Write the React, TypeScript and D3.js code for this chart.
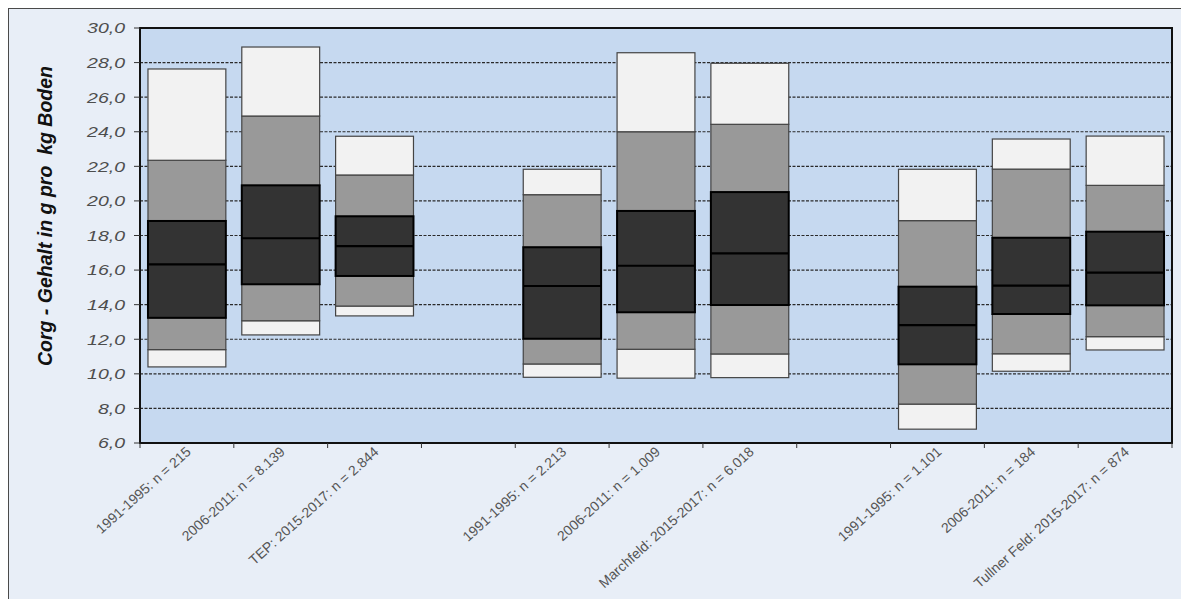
import React from "react";
import * as d3 from "d3";

const categories = [
  "1991-1995: n = 215",
  "2006-2011: n = 8.139",
  "TEP: 2015-2017: n = 2.844",
  "",
  "1991-1995: n = 2.213",
  "2006-2011: n = 1.009",
  "Marchfeld: 2015-2017: n = 6.018",
  "",
  "1991-1995: n = 1.101",
  "2006-2011: n = 184",
  "Tullner Feld: 2015-2017: n = 874",
];

// per box: min, p10, p25, median, p75, p90, max (index aligned with non-empty categories)
const minVals = [10.4, 12.25, 13.35, 9.8, 9.75, 9.78, 6.8, 10.15, 11.38];
const p10Vals = [11.4, 13.07, 13.92, 10.57, 11.42, 11.15, 8.25, 11.16, 12.15];
const p25Vals = [13.24, 15.18, 15.66, 12.03, 13.56, 13.98, 10.55, 13.46, 13.96];
const medVals = [16.33, 17.84, 17.39, 15.08, 16.25, 16.97, 12.82, 15.1, 15.85];
const p75Vals = [18.84, 20.9, 19.11, 17.32, 19.42, 20.51, 15.04, 17.87, 18.22];
const p90Vals = [22.35, 24.91, 21.5, 20.36, 24.0, 24.43, 18.86, 21.84, 20.9];
const maxVals = [27.63, 28.9, 23.74, 21.83, 28.57, 27.96, 21.83, 23.58, 23.75];

const yTicks = [6, 8, 10, 12, 14, 16, 18, 20, 22, 24, 26, 28, 30];

const W = 1181;
const H = 599;
const left = 140;
const right = 1172;
const top = 28;
const bottom = 443;

export default function App() {
  const x = d3
    .scaleBand<number>()
    .domain(d3.range(categories.length))
    .range([left, right])
    .paddingInner(0.17)
    .paddingOuter(0.085);
  const slot = (right - left) / categories.length;
  const y = d3.scaleLinear().domain([6, 30]).range([bottom, top]);
  const fmt = (v: number) => v.toFixed(1).replace(".", ",");

  const boxIdx = categories
    .map((c, i) => (c ? i : -1))
    .filter((i) => i >= 0);

  return (
    <svg
      width={W}
      height={H}
      style={{ position: "absolute", left: 0, top: 0, display: "block" }}
      fontFamily="Arial, Liberation Sans, sans-serif"
    >
      <rect x={0} y={0} width={W} height={H} fill="#ffffff" />
      <rect x={8.5} y={8.5} width={W + 10} height={H + 10} fill="#e8eef7" stroke="#4a4a4a" strokeWidth={1} />
      <rect x={left} y={top} width={right - left} height={bottom - top} fill="#c6d9f0" />
      {yTicks
        .filter((t) => t !== 6 && t !== 30)
        .map((t) => (
          <line
            key={"g" + t}
            x1={left}
            x2={right}
            y1={y(t)}
            y2={y(t)}
            stroke="#2a2a2a"
            strokeWidth={1.2}
            strokeDasharray="3,1.5"
          />
        ))}
      {boxIdx.map((ci, k) => {
        const bx = x(ci)!;
        const bw = x.bandwidth();
        const segs = [
          [minVals[k], p10Vals[k], "#f2f2f2"],
          [p10Vals[k], p25Vals[k], "#999999"],
          [p75Vals[k], p90Vals[k], "#999999"],
          [p90Vals[k], maxVals[k], "#f2f2f2"],
        ] as [number, number, string][];
        return (
          <g key={"b" + k}>
            {segs.map(([a, b, f], j) => (
              <rect key={j} x={bx} y={y(b)} width={bw} height={y(a) - y(b)} fill={f} stroke="#444" strokeWidth={1.2} />
            ))}
            <rect
              x={bx}
              y={y(p75Vals[k])}
              width={bw}
              height={y(p25Vals[k]) - y(p75Vals[k])}
              fill="#333333"
              stroke="#000"
              strokeWidth={2}
            />
            <line x1={bx} x2={bx + bw} y1={y(medVals[k])} y2={y(medVals[k])} stroke="#000" strokeWidth={2.2} />
          </g>
        );
      })}
      <rect x={left} y={top} width={right - left} height={bottom - top} fill="none" stroke="#111" strokeWidth={2} />
      {yTicks.map((t) => (
        <g key={"yt" + t}>
          <line x1={left - 6} x2={left} y1={y(t)} y2={y(t)} stroke="#333" strokeWidth={1} />
          <text
            transform={`translate(125,${y(t)}) scale(1.3,1)`}
            dy="0.36em"
            textAnchor="end"
            fontSize={15}
            fontStyle="italic"
            fill="#4d4d4d"
          >
            {fmt(t)}
          </text>
        </g>
      ))}
      {d3.range(categories.length + 1).map((i) => (
        <line
          key={"xt" + i}
          x1={left + i * slot}
          x2={left + i * slot}
          y1={bottom}
          y2={bottom + 5}
          stroke="#333"
          strokeWidth={1}
        />
      ))}
      {categories.map((c, i) =>
        c ? (
          <text
            key={"xl" + i}
            transform={`translate(${x(i)! + x.bandwidth() / 2 + 5},${bottom + 10}) rotate(-42)`}
            textAnchor="end"
            fontSize={14}
            fill="#555"
          >
            {c}
          </text>
        ) : null
      )}
      <text
        transform={`translate(52,216) rotate(-90)`}
        textAnchor="middle"
        fontSize={19.5}
        fontWeight="bold"
        fontStyle="italic"
        fill="#111"
        style={{ whiteSpace: "pre" }}
      >
        {"Corg - Gehalt in g pro  kg Boden"}
      </text>
    </svg>
  );
}
